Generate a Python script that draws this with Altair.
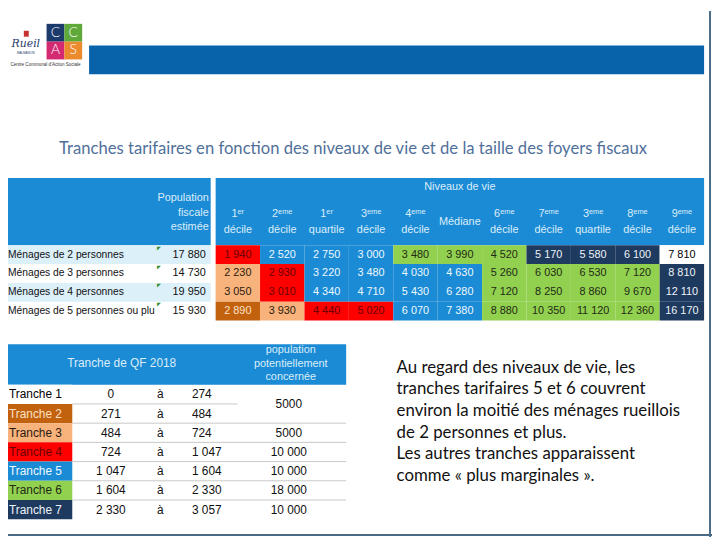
import altair as alt
import pandas as pd

# ---------------- data ----------------
titre = "Tranches tarifaires en fonction des niveaux de vie et de la taille des foyers fiscaux"

menages = ["Ménages de 2 personnes", "Ménages de 3 personnes",
           "Ménages de 4 personnes", "Ménages de 5 personnes ou plu"]
population_fiscale = [17880, 14730, 19950, 15930]

colonnes = ["1er décile", "2ème décile", "1er quartile", "3ème décile", "4ème décile",
            "Médiane", "6ème décile", "7ème décile", "3ème quartile", "8ème décile", "9ème décile"]
entete_l1 = ["1ᵉʳ", "2ᵉᵐᵉ", "1ᵉʳ", "3ᵉᵐᵉ", "4ᵉᵐᵉ", "Médiane", "6ᵉᵐᵉ", "7ᵉᵐᵉ", "3ᵉᵐᵉ", "8ᵉᵐᵉ", "9ᵉᵐᵉ"]
entete_l2 = ["décile", "décile", "quartile", "décile", "décile", "", "décile", "décile",
             "quartile", "décile", "décile"]

niveaux_2p = [1940, 2520, 2750, 3000, 3480, 3990, 4520, 5170, 5580, 6100, 7810]
niveaux_3p = [2230, 2930, 3220, 3480, 4030, 4630, 5260, 6030, 6530, 7120, 8810]
niveaux_4p = [3050, 3010, 4340, 4710, 5430, 6280, 7120, 8250, 8860, 9670, 12110]
niveaux_5p = [2890, 3930, 4440, 5020, 6070, 7380, 8880, 10350, 11120, 12360, 16170]

# tranche tarifaire de chaque cellule (0 = hors tranche)
tranche_2p = [4, 5, 5, 5, 6, 6, 6, 7, 7, 7, 0]
tranche_3p = [3, 4, 5, 5, 5, 5, 6, 6, 6, 6, 7]
tranche_4p = [3, 4, 5, 5, 5, 5, 6, 6, 6, 6, 7]
tranche_5p = [2, 3, 4, 4, 5, 5, 6, 6, 6, 6, 7]

tranches = ["Tranche 1", "Tranche 2", "Tranche 3", "Tranche 4", "Tranche 5", "Tranche 6", "Tranche 7"]
qf_debut = [0, 271, 484, 724, 1047, 1604, 2330]
qf_fin = [274, 484, 724, 1047, 1604, 2330, 3057]
pop_concernee = ["5000", "", "5000", "10 000", "10 000", "18 000", "10 000"]

paragraphe = ["Au regard des niveaux de vie, les",
              "tranches tarifaires 5 et 6 couvrent",
              "environ la moitié des ménages rueillois",
              "de 2 personnes et plus.",
              "Les autres tranches apparaissent",
              "comme « plus marginales »."]

logo_lettres = ["C", "C", "A", "S"]

# ---------------- styles ----------------
BLEU = "#1b8bd5"
codes_tranche = [0, 1, 2, 3, 4, 5, 6, 7]
fond_tranche = ["#ffffff", "#ffffff", "#c2620f", "#f8b27b", "#fe0000", BLEU, "#92d050", "#1e3a5f"]
texte_tranche = ["#000000", "#000000", "#fbe0c6", "#2a1a10", "#6a0000", "#eef8ff", "#1f2a14", "#eef3f8"]
ENTETE_TXT = "#dcedf9"
FONT_TAB = "Liberation Sans"
FONT_TXT = "Lato"


def fmt(v):
    return f"{v:,}".replace(",", " ")


# ---------------- tables ----------------
rows = []
for m, vals, trs in zip(menages, [niveaux_2p, niveaux_3p, niveaux_4p, niveaux_5p],
                        [tranche_2p, tranche_3p, tranche_4p, tranche_5p]):
    for c, v, t in zip(colonnes, vals, trs):
        rows.append({"menage": m, "colonne": c, "valeur": fmt(v), "tranche": t})
df_cells = pd.DataFrame(rows)

df_men = pd.DataFrame({"menage": menages, "pop": [fmt(p) for p in population_fiscale],
                       "rang": list(range(len(menages)))})
df_head = pd.DataFrame({"colonne": colonnes, "l1": entete_l1, "l2": entete_l2})

df_t2 = pd.DataFrame({"tranche": tranches, "code": list(range(1, 8)),
                      "de": [fmt(v) for v in qf_debut], "a": [fmt(v) for v in qf_fin],
                      "pop": pop_concernee})
df_t2_long = pd.DataFrame(
    [{"tranche": t, "col": "de", "txt": d} for t, d in zip(tranches, df_t2["de"])]
    + [{"tranche": t, "col": "à", "txt": "à"} for t in tranches]
    + [{"tranche": t, "col": "a", "txt": a} for t, a in zip(tranches, df_t2["a"])]
    + [{"tranche": t, "col": "pop", "txt": p} for t, p in zip(tranches, pop_concernee)]
)

df_par = pd.DataFrame({"ligne": list(range(len(paragraphe))), "texte": paragraphe})
df_logo = pd.DataFrame({"lettre": logo_lettres, "col": ["g", "d", "g", "d"],
                        "lig": ["h", "h", "b", "b"], "case": [0, 1, 2, 3]})

# ---------------- scales ----------------
def band(domain, rng):
    return alt.Scale(domain=domain, range=rng, paddingInner=0, paddingOuter=0)


x_dec = band(colonnes, [210, 704])
y_men = band(menages, [237, 313])
y_tr = band(tranches, [378, 514])
x_t2 = alt.Scale(type="point", domain=["de", "à", "a", "vide", "pop"], range=[104, 284], padding=0)
y_par = alt.Scale(type="point", domain=list(range(len(paragraphe))), range=[361, 470], padding=0)
fill_sc = alt.Scale(domain=codes_tranche, range=fond_tranche)
txt_sc = alt.Scale(domain=codes_tranche, range=texte_tranche)
fill_code = alt.Scale(domain=list(range(1, 8)), range=fond_tranche[1:])
txt_code = alt.Scale(domain=list(range(1, 8)), range=texte_tranche[1:])

one = pd.DataFrame({"k": [0]})
layers = []

# frame
layers.append(alt.Chart(one).mark_rule(color="#4a6b85", strokeWidth=2).encode(
    x=alt.value(710), y=alt.value(0), y2=alt.value(532)))
layers.append(alt.Chart(one).mark_rule(color="#4a6b85", strokeWidth=2).encode(
    x=alt.value(0), x2=alt.value(712), y=alt.value(530)))

# banner
layers.append(alt.Chart(one).mark_rect(color="#0863ab").encode(
    x=alt.value(82), x2=alt.value(704), y=alt.value(35), y2=alt.value(64)))

# logo CCAS
lx = band(["g", "d"], [39, 75])
ly = band(["h", "b"], [13, 49])
logo_sc = alt.Scale(domain=[0, 1, 2, 3], range=["#1d3a6d", "#5fa83a", "#d42a72", "#ec8a2e"])
layers.append(alt.Chart(df_logo).mark_rect().encode(
    x=alt.X("col:N", scale=lx, axis=None), y=alt.Y("lig:N", scale=ly, axis=None),
    color=alt.Color("case:N", scale=logo_sc, legend=None)))
layers.append(alt.Chart(df_logo).mark_text(color="white", font=FONT_TXT, fontSize=14, fontWeight=300,
                                            baseline="middle").encode(
    x=alt.X("col:N", scale=lx, axis=None), y=alt.Y("lig:N", scale=ly, axis=None), text="lettre:N"))
layers.append(alt.Chart(pd.DataFrame({"t": ["Rueil"]})).mark_text(
    font="DejaVu Serif", fontStyle="italic", fontSize=11, color="#1f3a6d",
    baseline="middle").encode(x=alt.value(18), y=alt.value(33), text="t:N"))
layers.append(alt.Chart(one).mark_rect(color="#c83232").encode(
    x=alt.value(16), x2=alt.value(21), y=alt.value(20), y2=alt.value(26)))
layers.append(alt.Chart(pd.DataFrame({"t": ["MALMAISON"]})).mark_text(
    font=FONT_TAB, fontSize=3, color="#1f3a6d", baseline="middle").encode(
    x=alt.value(18), y=alt.value(42), text="t:N"))
layers.append(alt.Chart(pd.DataFrame({"t": ["Centre Communal d'Action Sociale"]})).mark_text(
    font=FONT_TAB, fontSize=4.6, color="#333333", baseline="middle").encode(
    x=alt.value(38), y=alt.value(55), text="t:N"))

# title
layers.append(alt.Chart(pd.DataFrame({"t": [titre]})).mark_text(
    font=FONT_TXT, fontSize=16.8, color="#50709a", baseline="middle").encode(
    x=alt.value(349), y=alt.value(140), text="t:N"))

# ---- table 1 ----
layers.append(alt.Chart(one).mark_rect(color=BLEU).encode(
    x=alt.value(-1), x2=alt.value(205), y=alt.value(169), y2=alt.value(237)))
layers.append(alt.Chart(one).mark_rect(color=BLEU).encode(
    x=alt.value(210), x2=alt.value(704), y=alt.value(169), y2=alt.value(237)))
for ln, yy in zip(["Population", "fiscale", "estimée"], [189, 204, 218]):
    layers.append(alt.Chart(pd.DataFrame({"t": [ln]})).mark_text(
        font=FONT_TAB, fontSize=11, color=ENTETE_TXT, align="right", baseline="middle").encode(
        x=alt.value(203), y=alt.value(yy), text="t:N"))
layers.append(alt.Chart(pd.DataFrame({"t": ["Niveaux de vie"]})).mark_text(
    font=FONT_TAB, fontSize=11, color=ENTETE_TXT, baseline="middle").encode(
    x=alt.value(457), y=alt.value(178), text="t:N"))
layers.append(alt.Chart(df_head).transform_filter("datum.l2 != ''").mark_text(
    font=FONT_TAB, fontSize=11, color=ENTETE_TXT, baseline="middle").encode(
    x=alt.X("colonne:N", scale=x_dec, axis=None), y=alt.value(205), text="l1:N"))
layers.append(alt.Chart(df_head).transform_filter("datum.l2 != ''").mark_text(
    font=FONT_TAB, fontSize=11, color=ENTETE_TXT, baseline="middle").encode(
    x=alt.X("colonne:N", scale=x_dec, axis=None), y=alt.value(222), text="l2:N"))
layers.append(alt.Chart(df_head).transform_filter("datum.l2 == ''").mark_text(
    font=FONT_TAB, fontSize=11, color=ENTETE_TXT, baseline="middle").encode(
    x=alt.X("colonne:N", scale=x_dec, axis=None), y=alt.value(213), text="l1:N"))

# row shading (left part)
layers.append(alt.Chart(df_men).transform_filter("datum.rang % 2 == 0").mark_rect(color="#dcf0fa").encode(
    y=alt.Y("menage:N", scale=y_men, axis=None), x=alt.value(-1), x2=alt.value(205)))
layers.append(alt.Chart(df_men).mark_text(font=FONT_TAB, fontSize=10.4, color="#111111", align="left",
                                          baseline="middle").encode(
    y=alt.Y("menage:N", scale=y_men, axis=None), x=alt.value(0), text="menage:N"))
layers.append(alt.Chart(df_men).mark_text(font=FONT_TAB, fontSize=11, color="#111111", align="right",
                                          baseline="middle").encode(
    y=alt.Y("menage:N", scale=y_men, axis=None), x=alt.value(200), text="pop:N"))
layers.append(alt.Chart(df_men).mark_text(font=FONT_TAB, fontSize=5, color="#2e8b2e", align="left",
                                          baseline="middle", dy=-7).encode(
    y=alt.Y("menage:N", scale=y_men, axis=None), x=alt.value(151), text=alt.value("◤")))

# decile cells
layers.append(alt.Chart(df_cells).mark_rect().encode(
    x=alt.X("colonne:N", scale=x_dec, axis=None), y=alt.Y("menage:N", scale=y_men, axis=None),
    color=alt.Color("tranche:N", scale=fill_sc, legend=None)))
layers.append(alt.Chart(df_cells).mark_text(font=FONT_TAB, fontSize=11, baseline="middle").encode(
    x=alt.X("colonne:N", scale=x_dec, axis=None), y=alt.Y("menage:N", scale=y_men, axis=None),
    text="valeur:N", color=alt.Color("tranche:N", scale=txt_sc, legend=None)))

# ---- table 2 ----
layers.append(alt.Chart(one).mark_rect(color=BLEU).encode(
    x=alt.value(-1), x2=alt.value(342), y=alt.value(337), y2=alt.value(378)))
layers.append(alt.Chart(pd.DataFrame({"t": ["Tranche de QF 2018"]})).mark_text(
    font=FONT_TAB, fontSize=12, color=ENTETE_TXT, baseline="middle").encode(
    x=alt.value(115), y=alt.value(356), text="t:N"))
for ln, yy in zip(["population", "potentiellement", "concernée"], [343, 357, 370]):
    layers.append(alt.Chart(pd.DataFrame({"t": [ln]})).mark_text(
        font=FONT_TAB, fontSize=11, color=ENTETE_TXT, baseline="middle").encode(
        x=alt.value(286), y=alt.value(yy), text="t:N"))

layers.append(alt.Chart(df_t2).mark_rect().encode(
    y=alt.Y("tranche:N", scale=y_tr, axis=None), x=alt.value(-1), x2=alt.value(65),
    color=alt.Color("code:N", scale=fill_code, legend=None)))
layers.append(alt.Chart(df_t2).mark_text(font=FONT_TAB, fontSize=12, align="left", baseline="middle").encode(
    y=alt.Y("tranche:N", scale=y_tr, axis=None), x=alt.value(1), text="tranche:N",
    color=alt.Color("code:N", scale=txt_code, legend=None)))

layers.append(alt.Chart(df_t2).transform_filter("datum.code >= 2 && datum.code <= 6").mark_rule(
    color="#c8c8c8", strokeWidth=1).encode(
    y=alt.Y("tranche:N", scale=y_tr, axis=None, bandPosition=1), x=alt.value(65), x2=alt.value(342)))
layers.append(alt.Chart(df_t2).transform_filter("datum.code == 1").mark_rule(
    color="#c8c8c8", strokeWidth=1).encode(
    y=alt.Y("tranche:N", scale=y_tr, axis=None, bandPosition=1), x=alt.value(65), x2=alt.value(232)))

layers.append(alt.Chart(df_t2_long).transform_filter("datum.col == 'de'").mark_text(
    font=FONT_TAB, fontSize=12, color="#111111", baseline="middle").encode(
    x=alt.X("col:N", scale=x_t2, axis=None), y=alt.Y("tranche:N", scale=y_tr, axis=None), text="txt:N"))
layers.append(alt.Chart(df_t2_long).transform_filter("datum.col == 'à'").mark_text(
    font=FONT_TAB, fontSize=12, color="#111111", baseline="middle", dx=5).encode(
    x=alt.X("col:N", scale=x_t2, axis=None), y=alt.Y("tranche:N", scale=y_tr, axis=None), text="txt:N"))
layers.append(alt.Chart(df_t2_long).transform_filter("datum.col == 'a'").mark_text(
    font=FONT_TAB, fontSize=12, color="#111111", baseline="middle", align="left", dx=-8).encode(
    x=alt.X("col:N", scale=x_t2, axis=None), y=alt.Y("tranche:N", scale=y_tr, axis=None), text="txt:N"))
layers.append(alt.Chart(df_t2_long).transform_filter(
    "datum.col == 'pop' && datum.txt != '' && datum.tranche != 'Tranche 1'").mark_text(
    font=FONT_TAB, fontSize=12, color="#111111", baseline="middle").encode(
    x=alt.X("col:N", scale=x_t2, axis=None), y=alt.Y("tranche:N", scale=y_tr, axis=None), text="txt:N"))
# merged cell (tranches 1 and 2)
layers.append(alt.Chart(df_t2_long).transform_filter(
    "datum.col == 'pop' && datum.tranche == 'Tranche 1'").mark_text(
    font=FONT_TAB, fontSize=12, color="#111111", baseline="middle", dy=10).encode(
    x=alt.X("col:N", scale=x_t2, axis=None),
    y=alt.Y("tranche:N", scale=y_tr, axis=None), text="txt:N"))

# paragraph
layers.append(alt.Chart(df_par).mark_text(font=FONT_TXT, fontSize=17, color="#111111", align="left",
                                          baseline="middle").encode(
    x=alt.value(393), y=alt.Y("ligne:O", scale=y_par, axis=None), text="texte:N"))

chart = alt.layer(*layers).resolve_scale(
    x="independent", y="independent", color="independent"
).properties(
    width=712, height=532, padding=0, background="white",
    autosize=alt.AutoSizeParams(type="none"),
).configure_view(stroke=None)

chart.save("out.html", embed_options={"renderer": "svg", "actions": False})
